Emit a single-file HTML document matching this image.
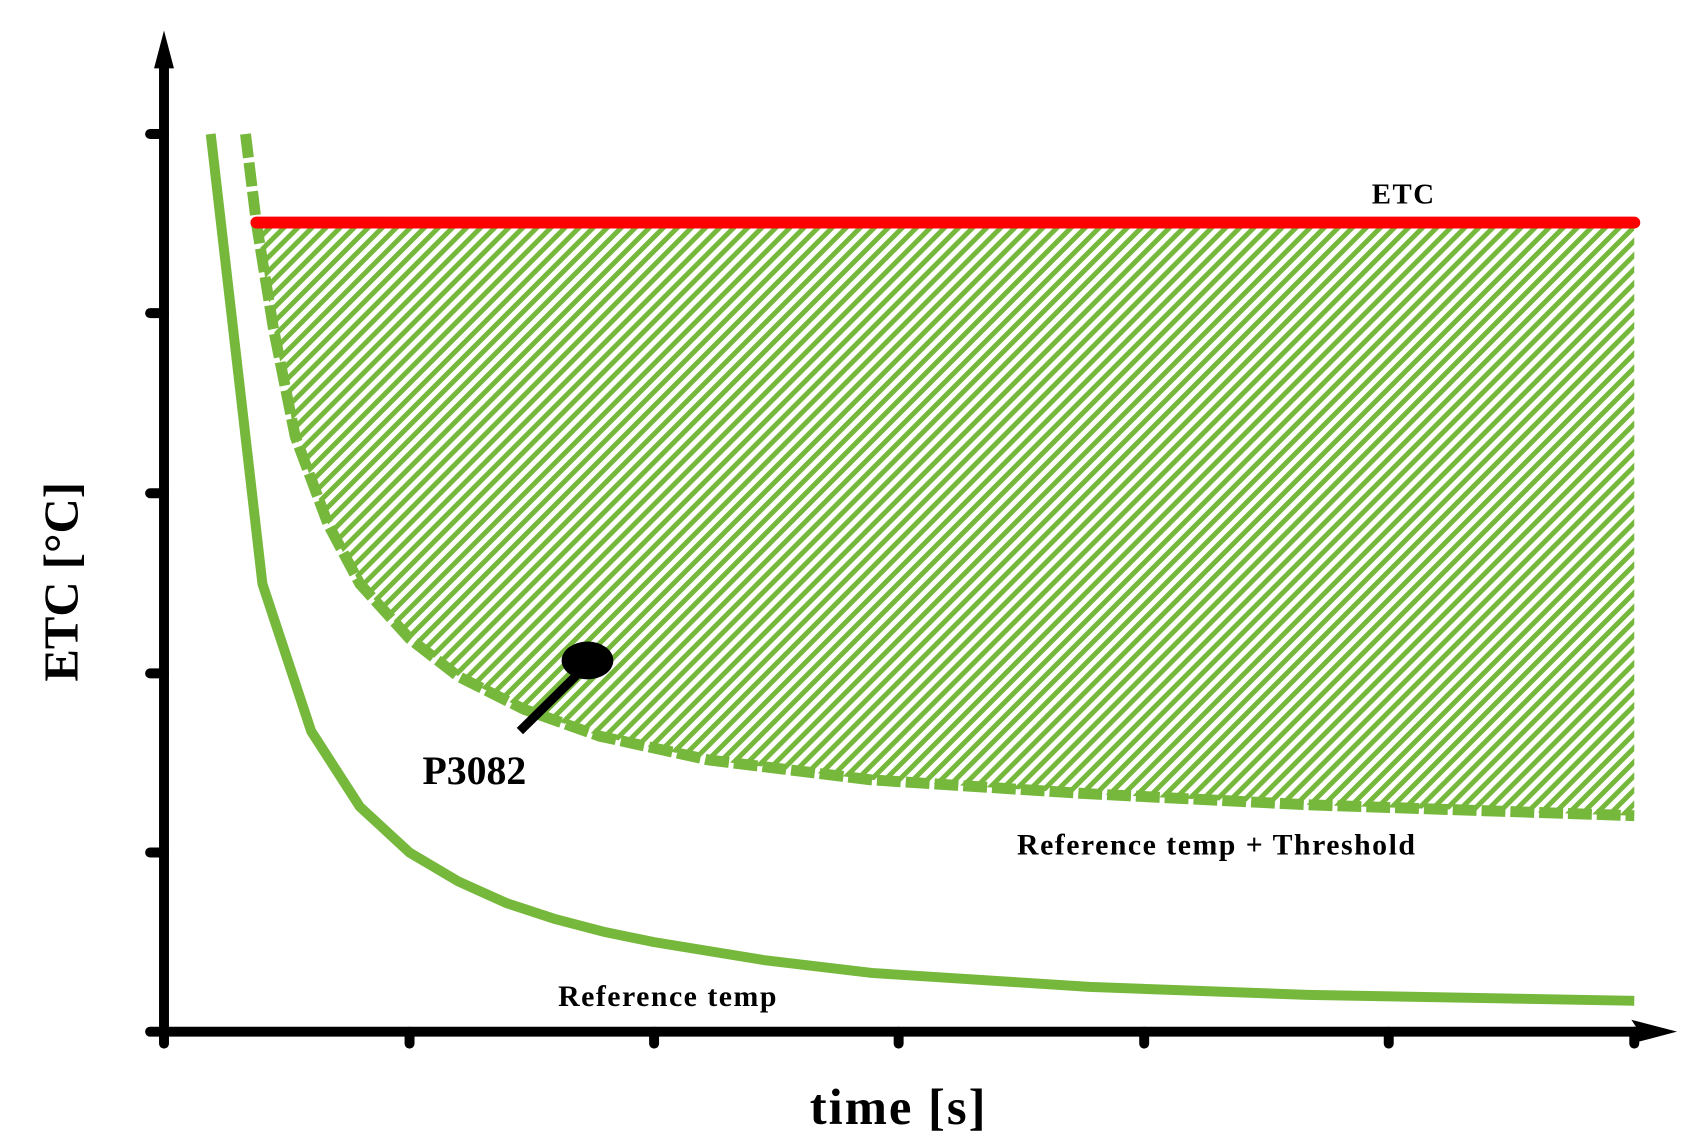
<!DOCTYPE html>
<html><head><meta charset="utf-8"><style>
html,body{margin:0;padding:0;background:#fff;}
svg{display:block;}
text{font-family:"Liberation Serif",serif;font-weight:bold;fill:#000;}
</style></head><body>
<svg width="1708" height="1148" viewBox="0 0 1708 1148" xmlns="http://www.w3.org/2000/svg">
<defs>
<pattern id="h" patternUnits="userSpaceOnUse" width="10" height="10" patternTransform="rotate(45)">
<rect x="0" y="0" width="5" height="10" fill="#76b83c"/>
</pattern>
</defs>
<g transform="translate(164,134) scale(0.9941,0.9952) translate(-164,-134)">
<path d="M257,223 L1643,223 L1643,819 L1314,808 L1095,797 L876,783 L712,763 L602,739 L526,712 L460,679 L411,641 L361,586 L329,526 L296,438 L274,329 L257,224 Z" fill="url(#h)"/>
<path d="M246,134 L257,224 L274,329 L296,438 L329,526 L361,586 L411,641 L460,679 L526,712 L602,739 L712,763 L876,783 L1095,797 L1314,808 L1643,819" fill="none" stroke="#76b83c" stroke-width="11" stroke-dasharray="24 5" stroke-linejoin="round"/>
<path d="M211,134 L263,586 L312,734 L361,810 L411,856 L460,885 L509,907 L558,923 L608,936 L657,946 L767,964 L876,977 L1095,991 L1314,999 L1643,1005" fill="none" stroke="#76b83c" stroke-width="10" stroke-linejoin="round"/>
<line x1="257" y1="223" x2="1643" y2="223" stroke="#ff0000" stroke-width="12" stroke-linecap="round"/>
<line x1="164" y1="50" x2="164" y2="1040" stroke="#000" stroke-width="10"/>
<polygon points="164,30 154,68 174,68" fill="#000"/>
<line x1="160" y1="1036" x2="1660" y2="1036" stroke="#000" stroke-width="10"/>
<polygon points="1686,1036 1640,1024 1648,1036 1640,1048" fill="#000"/>
<g stroke="#000" stroke-width="10" stroke-linecap="round">
<line x1="150" y1="134" x2="164" y2="134"/>
<line x1="150" y1="314" x2="164" y2="314"/>
<line x1="150" y1="495" x2="164" y2="495"/>
<line x1="150" y1="676" x2="164" y2="676"/>
<line x1="150" y1="856" x2="164" y2="856"/>
<line x1="150" y1="1036" x2="164" y2="1036"/>
<line x1="164" y1="1036" x2="164" y2="1048"/>
<line x1="411" y1="1036" x2="411" y2="1048"/>
<line x1="657" y1="1036" x2="657" y2="1048"/>
<line x1="903" y1="1036" x2="903" y2="1048"/>
<line x1="1150" y1="1036" x2="1150" y2="1048"/>
<line x1="1396" y1="1036" x2="1396" y2="1048"/>
<line x1="1643" y1="1036" x2="1643" y2="1048"/>
</g>
<line x1="585" y1="672" x2="522" y2="734" stroke="#000" stroke-width="9"/>
<ellipse cx="590" cy="663" rx="26" ry="19" fill="#000"/>
<text x="1411" y="204" font-size="29" letter-spacing="1.5" text-anchor="middle">ETC</text>
<text x="1223" y="858" font-size="30" letter-spacing="1.5" text-anchor="middle">Reference temp + Threshold</text>
<text x="671" y="1010" font-size="30" letter-spacing="1.5" text-anchor="middle">Reference temp</text>
<text x="424" y="787" font-size="40">P3082</text>
<text x="903" y="1129" font-size="51" letter-spacing="2" text-anchor="middle">time [s]</text>
<text x="0" y="0" font-size="49" text-anchor="middle" transform="translate(77,584) rotate(-90)">ETC [°C]</text>
</g>
</svg>
</body></html>
